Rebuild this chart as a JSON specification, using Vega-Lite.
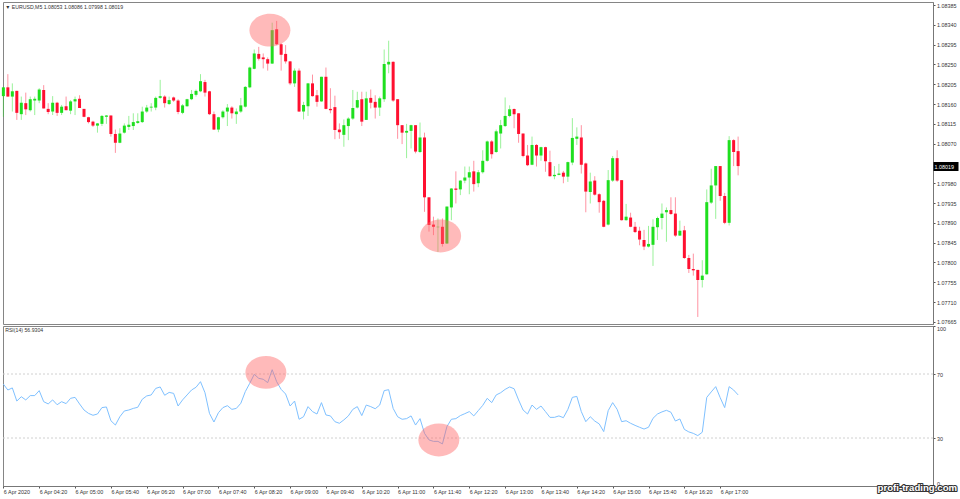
{
"$schema":"https://vega.github.io/schema/vega-lite/v6.json",
"background":"white",
"padding":{"left":0,"top":1,"right":0,"bottom":0},
"spacing":2,
"bounds":"flush",
"config":{"view":{"stroke":"#858585","strokeWidth":1},"text":{"font":"Liberation Sans"},"axis":{"labelFont":"Liberation Sans","labelFontSize":5.4,"labelColor":"#333","domainColor":"#777","tickColor":"#555","tickSize":2,"grid":false,"title":null}},
"datasets":{
"bars":[
{"t":"2020-04-06T03:40","o":1.08178,"h":1.08198,"l":1.08131,"c":1.08198,"rsi":63.7},
{"t":"2020-04-06T03:45","o":1.08198,"h":1.08228,"l":1.08177,"c":1.08177,"rsi":60.0},
{"t":"2020-04-06T03:50","o":1.08177,"h":1.08207,"l":1.08143,"c":1.08189,"rsi":61.3},
{"t":"2020-04-06T03:55","o":1.08190,"h":1.08190,"l":1.08124,"c":1.08140,"rsi":53.1},
{"t":"2020-04-06T04:00","o":1.08137,"h":1.08177,"l":1.08124,"c":1.08163,"rsi":55.8},
{"t":"2020-04-06T04:05","o":1.08162,"h":1.08186,"l":1.08135,"c":1.08148,"rsi":53.8},
{"t":"2020-04-06T04:10","o":1.08146,"h":1.08177,"l":1.08143,"c":1.08171,"rsi":56.5},
{"t":"2020-04-06T04:15","o":1.08168,"h":1.08177,"l":1.08135,"c":1.08172,"rsi":56.5},
{"t":"2020-04-06T04:20","o":1.08168,"h":1.08196,"l":1.08162,"c":1.08193,"rsi":59.6},
{"t":"2020-04-06T04:25","o":1.08192,"h":1.08203,"l":1.08150,"c":1.08150,"rsi":52.7},
{"t":"2020-04-06T04:30","o":1.08149,"h":1.08162,"l":1.08137,"c":1.08142,"rsi":51.3},
{"t":"2020-04-06T04:35","o":1.08143,"h":1.08178,"l":1.08135,"c":1.08163,"rsi":53.8},
{"t":"2020-04-06T04:40","o":1.08163,"h":1.08165,"l":1.08133,"c":1.08140,"rsi":50.8},
{"t":"2020-04-06T04:45","o":1.08140,"h":1.08158,"l":1.08135,"c":1.08154,"rsi":52.7},
{"t":"2020-04-06T04:50","o":1.08155,"h":1.08177,"l":1.08146,"c":1.08146,"rsi":51.5},
{"t":"2020-04-06T04:55","o":1.08145,"h":1.08169,"l":1.08137,"c":1.08166,"rsi":54.8},
{"t":"2020-04-06T05:00","o":1.08166,"h":1.08177,"l":1.08135,"c":1.08171,"rsi":55.4},
{"t":"2020-04-06T05:05","o":1.08172,"h":1.08180,"l":1.08151,"c":1.08151,"rsi":51.3},
{"t":"2020-04-06T05:10","o":1.08149,"h":1.08149,"l":1.08130,"c":1.08131,"rsi":47.5},
{"t":"2020-04-06T05:15","o":1.08130,"h":1.08131,"l":1.08116,"c":1.08119,"rsi":45.4},
{"t":"2020-04-06T05:20","o":1.08120,"h":1.08122,"l":1.08108,"c":1.08111,"rsi":44.2},
{"t":"2020-04-06T05:25","o":1.08111,"h":1.08117,"l":1.08095,"c":1.08116,"rsi":45.0},
{"t":"2020-04-06T05:30","o":1.08115,"h":1.08135,"l":1.08110,"c":1.08133,"rsi":49.0},
{"t":"2020-04-06T05:35","o":1.08131,"h":1.08135,"l":1.08115,"c":1.08134,"rsi":49.4},
{"t":"2020-04-06T05:40","o":1.08134,"h":1.08134,"l":1.08086,"c":1.08092,"rsi":40.8},
{"t":"2020-04-06T05:45","o":1.08092,"h":1.08102,"l":1.08049,"c":1.08072,"rsi":38.1},
{"t":"2020-04-06T05:50","o":1.08072,"h":1.08105,"l":1.08071,"c":1.08093,"rsi":43.3},
{"t":"2020-04-06T05:55","o":1.08095,"h":1.08116,"l":1.08093,"c":1.08111,"rsi":46.9},
{"t":"2020-04-06T06:00","o":1.08108,"h":1.08133,"l":1.08101,"c":1.08113,"rsi":47.5},
{"t":"2020-04-06T06:05","o":1.08110,"h":1.08139,"l":1.08101,"c":1.08119,"rsi":48.5},
{"t":"2020-04-06T06:10","o":1.08117,"h":1.08139,"l":1.08115,"c":1.08121,"rsi":49.2},
{"t":"2020-04-06T06:15","o":1.08119,"h":1.08154,"l":1.08117,"c":1.08143,"rsi":54.2},
{"t":"2020-04-06T06:20","o":1.08143,"h":1.08158,"l":1.08140,"c":1.08152,"rsi":56.3},
{"t":"2020-04-06T06:25","o":1.08152,"h":1.08162,"l":1.08143,"c":1.08154,"rsi":56.9},
{"t":"2020-04-06T06:30","o":1.08152,"h":1.08177,"l":1.08146,"c":1.08174,"rsi":61.0},
{"t":"2020-04-06T06:35","o":1.08174,"h":1.08215,"l":1.08172,"c":1.08178,"rsi":61.9},
{"t":"2020-04-06T06:40","o":1.08177,"h":1.08180,"l":1.08152,"c":1.08162,"rsi":56.7},
{"t":"2020-04-06T06:45","o":1.08160,"h":1.08177,"l":1.08158,"c":1.08169,"rsi":58.5},
{"t":"2020-04-06T06:50","o":1.08175,"h":1.08177,"l":1.08165,"c":1.08168,"rsi":57.9},
{"t":"2020-04-06T06:55","o":1.08168,"h":1.08171,"l":1.08137,"c":1.08142,"rsi":50.0},
{"t":"2020-04-06T07:00","o":1.08140,"h":1.08160,"l":1.08137,"c":1.08157,"rsi":53.8},
{"t":"2020-04-06T07:05","o":1.08155,"h":1.08172,"l":1.08154,"c":1.08171,"rsi":56.9},
{"t":"2020-04-06T07:10","o":1.08171,"h":1.08192,"l":1.08169,"c":1.08183,"rsi":60.0},
{"t":"2020-04-06T07:15","o":1.08181,"h":1.08193,"l":1.08177,"c":1.08190,"rsi":61.7},
{"t":"2020-04-06T07:20","o":1.08189,"h":1.08228,"l":1.08187,"c":1.08212,"rsi":65.2},
{"t":"2020-04-06T07:25","o":1.08210,"h":1.08215,"l":1.08177,"c":1.08186,"rsi":58.3},
{"t":"2020-04-06T07:30","o":1.08189,"h":1.08190,"l":1.08135,"c":1.08137,"rsi":45.4},
{"t":"2020-04-06T07:35","o":1.08137,"h":1.08143,"l":1.08101,"c":1.08102,"rsi":40.0},
{"t":"2020-04-06T07:40","o":1.08102,"h":1.08131,"l":1.08096,"c":1.08130,"rsi":45.8},
{"t":"2020-04-06T07:45","o":1.08130,"h":1.08146,"l":1.08127,"c":1.08143,"rsi":49.0},
{"t":"2020-04-06T07:50","o":1.08143,"h":1.08160,"l":1.08110,"c":1.08152,"rsi":50.2},
{"t":"2020-04-06T07:55","o":1.08152,"h":1.08155,"l":1.08127,"c":1.08139,"rsi":47.9},
{"t":"2020-04-06T08:00","o":1.08137,"h":1.08150,"l":1.08115,"c":1.08143,"rsi":48.5},
{"t":"2020-04-06T08:05","o":1.08143,"h":1.08174,"l":1.08140,"c":1.08157,"rsi":51.7},
{"t":"2020-04-06T08:10","o":1.08154,"h":1.08201,"l":1.08152,"c":1.08199,"rsi":59.0},
{"t":"2020-04-06T08:15","o":1.08198,"h":1.08245,"l":1.08196,"c":1.08243,"rsi":64.2},
{"t":"2020-04-06T08:20","o":1.08240,"h":1.08284,"l":1.08239,"c":1.08275,"rsi":69.8},
{"t":"2020-04-06T08:25","o":1.08274,"h":1.08290,"l":1.08259,"c":1.08263,"rsi":67.3},
{"t":"2020-04-06T08:30","o":1.08266,"h":1.08275,"l":1.08241,"c":1.08262,"rsi":66.7},
{"t":"2020-04-06T08:35","o":1.08262,"h":1.08266,"l":1.08236,"c":1.08252,"rsi":64.6},
{"t":"2020-04-06T08:40","o":1.08252,"h":1.08345,"l":1.08251,"c":1.08328,"rsi":72.7},
{"t":"2020-04-06T08:45","o":1.08330,"h":1.08349,"l":1.08294,"c":1.08296,"rsi":65.2},
{"t":"2020-04-06T08:50","o":1.08296,"h":1.08298,"l":1.08236,"c":1.08272,"rsi":60.4},
{"t":"2020-04-06T08:55","o":1.08274,"h":1.08294,"l":1.08252,"c":1.08257,"rsi":57.5},
{"t":"2020-04-06T09:00","o":1.08257,"h":1.08258,"l":1.08203,"c":1.08207,"rsi":50.0},
{"t":"2020-04-06T09:05","o":1.08207,"h":1.08241,"l":1.08199,"c":1.08236,"rsi":53.1},
{"t":"2020-04-06T09:10","o":1.08236,"h":1.08241,"l":1.08142,"c":1.08143,"rsi":41.7},
{"t":"2020-04-06T09:15","o":1.08143,"h":1.08165,"l":1.08125,"c":1.08158,"rsi":43.3},
{"t":"2020-04-06T09:20","o":1.08155,"h":1.08208,"l":1.08133,"c":1.08207,"rsi":49.6},
{"t":"2020-04-06T09:25","o":1.08207,"h":1.08227,"l":1.08177,"c":1.08178,"rsi":46.5},
{"t":"2020-04-06T09:30","o":1.08180,"h":1.08192,"l":1.08154,"c":1.08165,"rsi":45.0},
{"t":"2020-04-06T09:35","o":1.08166,"h":1.08222,"l":1.08165,"c":1.08222,"rsi":52.1},
{"t":"2020-04-06T09:40","o":1.08222,"h":1.08243,"l":1.08148,"c":1.08149,"rsi":44.4},
{"t":"2020-04-06T09:45","o":1.08149,"h":1.08196,"l":1.08139,"c":1.08146,"rsi":43.8},
{"t":"2020-04-06T09:50","o":1.08153,"h":1.08179,"l":1.08080,"c":1.08101,"rsi":40.2},
{"t":"2020-04-06T09:55","o":1.08102,"h":1.08116,"l":1.08081,"c":1.08096,"rsi":39.2},
{"t":"2020-04-06T10:00","o":1.08090,"h":1.08125,"l":1.08063,"c":1.08112,"rsi":41.3},
{"t":"2020-04-06T10:05","o":1.08110,"h":1.08130,"l":1.08078,"c":1.08127,"rsi":43.8},
{"t":"2020-04-06T10:10","o":1.08127,"h":1.08192,"l":1.08124,"c":1.08151,"rsi":47.9},
{"t":"2020-04-06T10:15","o":1.08152,"h":1.08188,"l":1.08150,"c":1.08169,"rsi":49.6},
{"t":"2020-04-06T10:20","o":1.08171,"h":1.08188,"l":1.08110,"c":1.08120,"rsi":44.0},
{"t":"2020-04-06T10:25","o":1.08124,"h":1.08188,"l":1.08124,"c":1.08173,"rsi":50.6},
{"t":"2020-04-06T10:30","o":1.08174,"h":1.08193,"l":1.08150,"c":1.08163,"rsi":49.6},
{"t":"2020-04-06T10:35","o":1.08165,"h":1.08180,"l":1.08127,"c":1.08152,"rsi":48.3},
{"t":"2020-04-06T10:40","o":1.08152,"h":1.08177,"l":1.08133,"c":1.08173,"rsi":50.6},
{"t":"2020-04-06T10:45","o":1.08171,"h":1.08284,"l":1.08165,"c":1.08251,"rsi":59.6},
{"t":"2020-04-06T10:50","o":1.08250,"h":1.08304,"l":1.08230,"c":1.08256,"rsi":60.2},
{"t":"2020-04-06T10:55","o":1.08256,"h":1.08257,"l":1.08165,"c":1.08168,"rsi":48.5},
{"t":"2020-04-06T11:00","o":1.08171,"h":1.08171,"l":1.08081,"c":1.08112,"rsi":43.3},
{"t":"2020-04-06T11:05","o":1.08112,"h":1.08112,"l":1.08069,"c":1.08095,"rsi":41.7},
{"t":"2020-04-06T11:10","o":1.08095,"h":1.08115,"l":1.08037,"c":1.08099,"rsi":42.1},
{"t":"2020-04-06T11:15","o":1.08099,"h":1.08113,"l":1.08059,"c":1.08112,"rsi":43.8},
{"t":"2020-04-06T11:20","o":1.08112,"h":1.08112,"l":1.08048,"c":1.08052,"rsi":38.1},
{"t":"2020-04-06T11:25","o":1.08051,"h":1.08118,"l":1.08049,"c":1.08084,"rsi":42.1},
{"t":"2020-04-06T11:30","o":1.08084,"h":1.08095,"l":1.07915,"c":1.07948,"rsi":32.9},
{"t":"2020-04-06T11:35","o":1.07948,"h":1.07948,"l":1.07870,"c":1.07885,"rsi":28.8},
{"t":"2020-04-06T11:40","o":1.07886,"h":1.07904,"l":1.07862,"c":1.07881,"rsi":27.9},
{"t":"2020-04-06T11:45","o":1.07880,"h":1.07900,"l":1.07824,"c":1.07881,"rsi":27.9},
{"t":"2020-04-06T11:50","o":1.07881,"h":1.07900,"l":1.07836,"c":1.07842,"rsi":26.3},
{"t":"2020-04-06T11:55","o":1.07843,"h":1.07927,"l":1.07842,"c":1.07927,"rsi":37.1},
{"t":"2020-04-06T12:00","o":1.07925,"h":1.07969,"l":1.07896,"c":1.07968,"rsi":41.7},
{"t":"2020-04-06T12:05","o":1.07968,"h":1.08007,"l":1.07934,"c":1.07965,"rsi":42.1},
{"t":"2020-04-06T12:10","o":1.07966,"h":1.07987,"l":1.07953,"c":1.07986,"rsi":44.0},
{"t":"2020-04-06T12:15","o":1.07986,"h":1.08018,"l":1.07980,"c":1.07993,"rsi":45.2},
{"t":"2020-04-06T12:20","o":1.07993,"h":1.08018,"l":1.07955,"c":1.08005,"rsi":46.5},
{"t":"2020-04-06T12:25","o":1.08007,"h":1.08031,"l":1.07961,"c":1.07978,"rsi":43.8},
{"t":"2020-04-06T12:30","o":1.07980,"h":1.08010,"l":1.07971,"c":1.08005,"rsi":47.1},
{"t":"2020-04-06T12:35","o":1.08005,"h":1.08055,"l":1.08002,"c":1.08031,"rsi":50.4},
{"t":"2020-04-06T12:40","o":1.08031,"h":1.08077,"l":1.08029,"c":1.08075,"rsi":54.8},
{"t":"2020-04-06T12:45","o":1.08075,"h":1.08078,"l":1.08036,"c":1.08046,"rsi":52.1},
{"t":"2020-04-06T12:50","o":1.08051,"h":1.08102,"l":1.08049,"c":1.08098,"rsi":56.9},
{"t":"2020-04-06T12:55","o":1.08093,"h":1.08124,"l":1.08059,"c":1.08112,"rsi":58.3},
{"t":"2020-04-06T13:00","o":1.08110,"h":1.08175,"l":1.08108,"c":1.08133,"rsi":60.4},
{"t":"2020-04-06T13:05","o":1.08133,"h":1.08157,"l":1.08130,"c":1.08148,"rsi":61.9},
{"t":"2020-04-06T13:10","o":1.08149,"h":1.08150,"l":1.08105,"c":1.08137,"rsi":60.8},
{"t":"2020-04-06T13:15","o":1.08139,"h":1.08139,"l":1.08072,"c":1.08092,"rsi":53.8},
{"t":"2020-04-06T13:20","o":1.08093,"h":1.08093,"l":1.08039,"c":1.08042,"rsi":47.5},
{"t":"2020-04-06T13:25","o":1.08043,"h":1.08067,"l":1.08019,"c":1.08021,"rsi":45.0},
{"t":"2020-04-06T13:30","o":1.08022,"h":1.08086,"l":1.08021,"c":1.08067,"rsi":50.6},
{"t":"2020-04-06T13:35","o":1.08067,"h":1.08069,"l":1.08018,"c":1.08043,"rsi":47.9},
{"t":"2020-04-06T13:40","o":1.08043,"h":1.08063,"l":1.08031,"c":1.08062,"rsi":50.0},
{"t":"2020-04-06T13:45","o":1.08062,"h":1.08063,"l":1.08006,"c":1.08030,"rsi":46.5},
{"t":"2020-04-06T13:50","o":1.08028,"h":1.08054,"l":1.07995,"c":1.07996,"rsi":42.9},
{"t":"2020-04-06T13:55","o":1.07996,"h":1.08019,"l":1.07989,"c":1.07999,"rsi":42.9},
{"t":"2020-04-06T14:00","o":1.07999,"h":1.08024,"l":1.07998,"c":1.08002,"rsi":43.8},
{"t":"2020-04-06T14:05","o":1.08004,"h":1.08008,"l":1.07980,"c":1.07995,"rsi":42.7},
{"t":"2020-04-06T14:10","o":1.07995,"h":1.08029,"l":1.07983,"c":1.08028,"rsi":47.9},
{"t":"2020-04-06T14:15","o":1.08027,"h":1.08128,"l":1.08021,"c":1.08083,"rsi":55.4},
{"t":"2020-04-06T14:20","o":1.08081,"h":1.08107,"l":1.08067,"c":1.08086,"rsi":56.0},
{"t":"2020-04-06T14:25","o":1.08084,"h":1.08112,"l":1.08002,"c":1.08022,"rsi":46.5},
{"t":"2020-04-06T14:30","o":1.08025,"h":1.08027,"l":1.07914,"c":1.07961,"rsi":40.2},
{"t":"2020-04-06T14:35","o":1.07960,"h":1.08004,"l":1.07934,"c":1.07984,"rsi":43.3},
{"t":"2020-04-06T14:40","o":1.07986,"h":1.07996,"l":1.07952,"c":1.07954,"rsi":40.6},
{"t":"2020-04-06T14:45","o":1.07955,"h":1.07957,"l":1.07913,"c":1.07937,"rsi":38.8},
{"t":"2020-04-06T14:50","o":1.07940,"h":1.07942,"l":1.07880,"c":1.07881,"rsi":34.0},
{"t":"2020-04-06T14:55","o":1.07886,"h":1.08010,"l":1.07884,"c":1.07987,"rsi":47.1},
{"t":"2020-04-06T15:00","o":1.07986,"h":1.08042,"l":1.07983,"c":1.08037,"rsi":52.1},
{"t":"2020-04-06T15:05","o":1.08037,"h":1.08055,"l":1.07983,"c":1.07986,"rsi":47.9},
{"t":"2020-04-06T15:10","o":1.07987,"h":1.07987,"l":1.07895,"c":1.07896,"rsi":40.2},
{"t":"2020-04-06T15:15","o":1.07896,"h":1.07933,"l":1.07895,"c":1.07904,"rsi":40.8},
{"t":"2020-04-06T15:20","o":1.07902,"h":1.07913,"l":1.07880,"c":1.07881,"rsi":39.2},
{"t":"2020-04-06T15:25","o":1.07881,"h":1.07892,"l":1.07867,"c":1.07869,"rsi":37.9},
{"t":"2020-04-06T15:30","o":1.07872,"h":1.07881,"l":1.07839,"c":1.07852,"rsi":36.7},
{"t":"2020-04-06T15:35","o":1.07851,"h":1.07874,"l":1.07828,"c":1.07836,"rsi":35.6},
{"t":"2020-04-06T15:40","o":1.07836,"h":1.07883,"l":1.07834,"c":1.07842,"rsi":36.7},
{"t":"2020-04-06T15:45","o":1.07840,"h":1.07898,"l":1.07792,"c":1.07881,"rsi":42.3},
{"t":"2020-04-06T15:50","o":1.07880,"h":1.07904,"l":1.07851,"c":1.07901,"rsi":45.0},
{"t":"2020-04-06T15:55","o":1.07901,"h":1.07934,"l":1.07875,"c":1.07911,"rsi":46.3},
{"t":"2020-04-06T16:00","o":1.07914,"h":1.07925,"l":1.07847,"c":1.07919,"rsi":47.3},
{"t":"2020-04-06T16:05","o":1.07919,"h":1.07948,"l":1.07908,"c":1.07910,"rsi":46.1},
{"t":"2020-04-06T16:10","o":1.07911,"h":1.07948,"l":1.07858,"c":1.07861,"rsi":40.6},
{"t":"2020-04-06T16:15","o":1.07861,"h":1.07895,"l":1.07860,"c":1.07872,"rsi":41.9},
{"t":"2020-04-06T16:20","o":1.07873,"h":1.07883,"l":1.07808,"c":1.07810,"rsi":35.4},
{"t":"2020-04-06T16:25","o":1.07810,"h":1.07817,"l":1.07776,"c":1.07785,"rsi":33.8},
{"t":"2020-04-06T16:30","o":1.07785,"h":1.07820,"l":1.07770,"c":1.07782,"rsi":32.9},
{"t":"2020-04-06T16:35","o":1.07783,"h":1.07783,"l":1.07676,"c":1.07760,"rsi":31.5},
{"t":"2020-04-06T16:40","o":1.07760,"h":1.07805,"l":1.07743,"c":1.07770,"rsi":33.6},
{"t":"2020-04-06T16:45","o":1.07773,"h":1.07966,"l":1.07772,"c":1.07937,"rsi":55.4},
{"t":"2020-04-06T16:50","o":1.07936,"h":1.08013,"l":1.07933,"c":1.07975,"rsi":58.8},
{"t":"2020-04-06T16:55","o":1.07975,"h":1.08019,"l":1.07899,"c":1.08019,"rsi":62.1},
{"t":"2020-04-06T17:00","o":1.08019,"h":1.08019,"l":1.07940,"c":1.07951,"rsi":55.2},
{"t":"2020-04-06T17:05","o":1.07951,"h":1.07958,"l":1.07887,"c":1.07890,"rsi":49.0},
{"t":"2020-04-06T17:10","o":1.07890,"h":1.08087,"l":1.07884,"c":1.08078,"rsi":62.1},
{"t":"2020-04-06T17:15","o":1.08078,"h":1.08080,"l":1.08019,"c":1.08051,"rsi":60.0},
{"t":"2020-04-06T17:20","o":1.08053,"h":1.08086,"l":1.07998,"c":1.08019,"rsi":56.93}
],
"priceHighlights":[
{"t":"2020-04-06T08:37:30","price":1.08328},
{"t":"2020-04-06T11:48:00","price":1.0786}
],
"rsiHighlights":[
{"t":"2020-04-06T08:33:00","rsi":71},
{"t":"2020-04-06T11:46:00","rsi":28.75}
],
"priceNote":[{"t":"2020-04-06T03:42","price":1.08381,"label":"▼ EURUSD,M5  1.08053 1.08086 1.07998 1.08019"}],
"rsiNote":[{"t":"2020-04-06T03:42","rsi":97.5,"label":"RSI(14) 56.9304"}],
"brand":[{"t":"2020-04-06T20:40","rsi":-1,"label":"profi-trading.com"}]
},
"vconcat":[
{
"width":930,"height":322,
"data":{"name":"bars"},
"encoding":{"x":{"field":"t","type":"temporal","axis":null,"scale":{"padding":0,"domain":[{"year":2020,"month":"apr","date":6,"hours":3,"minutes":39,"seconds":35},{"year":2020,"month":"apr","date":6,"hours":20,"minutes":57,"seconds":30}]}}},
"resolve":{"axis":{"y":"independent"}},
"layer":[
{"mark":{"type":"rule","strokeWidth":1,"opacity":0.45},
"encoding":{
"y":{"field":"l","type":"quantitative","scale":{"domain":[1.0766,1.08392],"nice":false,"zero":false},
"axis":{"orient":"right","format":".5f","labelPadding":1.5,"values":[1.08385,1.0834,1.08295,1.0825,1.08205,1.0816,1.08115,1.0807,1.08025,1.0798,1.07935,1.0789,1.07845,1.078,1.07755,1.0771,1.07665]}},
"y2":{"field":"h"},
"color":{"condition":{"test":"datum.c>=datum.o","value":"#1fdf1f"},"value":"#ff1030"}}},
{"mark":{"type":"bar","size":3,"orient":"vertical"},
"encoding":{
"y":{"field":"o","type":"quantitative","axis":{"orient":"right","zindex":1,"format":".5f","domain":false,"values":[1.08019],"tickColor":"black","tickSize":25,"tickWidth":9,"labelColor":"white","labelPadding":-24,"labelBound":false}},
"y2":{"field":"c"},
"color":{"condition":{"test":"datum.c>=datum.o","value":"#1fdf1f"},"value":"#ff1030"}}},
{"data":{"name":"priceHighlights"},
"mark":{"type":"point","filled":true,"shape":"M-1,0A1,0.8,0,1,1,1,0A1,0.8,0,1,1,-1,0Z","size":1681,"color":"#ff6666","opacity":0.45},
"encoding":{"y":{"field":"price","type":"quantitative","axis":null}}},
{"data":{"name":"priceNote"},
"mark":{"type":"text","align":"left","baseline":"middle","fontSize":5.2,"color":"#333"},
"encoding":{"y":{"field":"price","type":"quantitative","axis":null},"text":{"field":"label"}}}
]
},
{
"width":930,"height":160,
"data":{"name":"bars"},
"encoding":{"x":{"field":"t","type":"temporal","scale":{"domain":[{"year":2020,"month":"apr","date":6,"hours":3,"minutes":39,"seconds":35},{"year":2020,"month":"apr","date":6,"hours":20,"minutes":57,"seconds":30}]},
"axis":{"labelAlign":"left","labelPadding":1.5,"labelOverlap":false,"labelFlush":false,
"labelExpr":"hours(datum.value)==3 ? '6 Apr 2020' : timeFormat(datum.value,'%-d %b %H:%M')",
"values":[
{"year":2020,"month":"apr","date":6,"hours":3,"minutes":40},
{"year":2020,"month":"apr","date":6,"hours":4,"minutes":20},
{"year":2020,"month":"apr","date":6,"hours":5,"minutes":0},
{"year":2020,"month":"apr","date":6,"hours":5,"minutes":40},
{"year":2020,"month":"apr","date":6,"hours":6,"minutes":20},
{"year":2020,"month":"apr","date":6,"hours":7,"minutes":0},
{"year":2020,"month":"apr","date":6,"hours":7,"minutes":40},
{"year":2020,"month":"apr","date":6,"hours":8,"minutes":20},
{"year":2020,"month":"apr","date":6,"hours":9,"minutes":0},
{"year":2020,"month":"apr","date":6,"hours":9,"minutes":40},
{"year":2020,"month":"apr","date":6,"hours":10,"minutes":20},
{"year":2020,"month":"apr","date":6,"hours":11,"minutes":0},
{"year":2020,"month":"apr","date":6,"hours":11,"minutes":40},
{"year":2020,"month":"apr","date":6,"hours":12,"minutes":20},
{"year":2020,"month":"apr","date":6,"hours":13,"minutes":0},
{"year":2020,"month":"apr","date":6,"hours":13,"minutes":40},
{"year":2020,"month":"apr","date":6,"hours":14,"minutes":20},
{"year":2020,"month":"apr","date":6,"hours":15,"minutes":0},
{"year":2020,"month":"apr","date":6,"hours":15,"minutes":40},
{"year":2020,"month":"apr","date":6,"hours":16,"minutes":20},
{"year":2020,"month":"apr","date":6,"hours":17,"minutes":0}
]}}},
"layer":[
{"data":{"values":[{"level":70},{"level":30}]},
"mark":{"type":"rule","stroke":"#d0d0d0","strokeWidth":1,"strokeDash":[2,2]},
"encoding":{"x":null,"y":{"field":"level","type":"quantitative","scale":{"domain":[0,100],"nice":false},"axis":{"orient":"right","values":[0,30,70,100],"labelPadding":1.5,"labelFlush":true}}}},
{"mark":{"type":"line","color":"#7fc1ff","strokeWidth":1,"interpolate":"linear"},
"encoding":{"y":{"field":"rsi","type":"quantitative"}}},
{"data":{"name":"rsiHighlights"},
"mark":{"type":"point","filled":true,"shape":"M-1,0A1,0.8,0,1,1,1,0A1,0.8,0,1,1,-1,0Z","size":1681,"color":"#ff6666","opacity":0.45},
"encoding":{"y":{"field":"rsi","type":"quantitative"}}},
{"data":{"name":"rsiNote"},
"mark":{"type":"text","align":"left","baseline":"middle","fontSize":5.2,"color":"#333"},
"encoding":{"y":{"field":"rsi","type":"quantitative"},"text":{"field":"label"}}},
{"data":{"name":"brand"},
"mark":{"type":"text","align":"center","baseline":"middle","font":"Liberation Sans","fontWeight":"bold","fontSize":9.6,"stroke":"#333","strokeWidth":2.2,"strokeJoin":"round","color":"#333"},
"encoding":{"y":{"field":"rsi","type":"quantitative"},"text":{"field":"label"}}},
{"data":{"name":"brand"},
"mark":{"type":"text","align":"center","baseline":"middle","font":"Liberation Sans","fontWeight":"bold","fontSize":9.6,"color":"white"},
"encoding":{"y":{"field":"rsi","type":"quantitative"},"text":{"field":"label"}}}
]
}
]
}
